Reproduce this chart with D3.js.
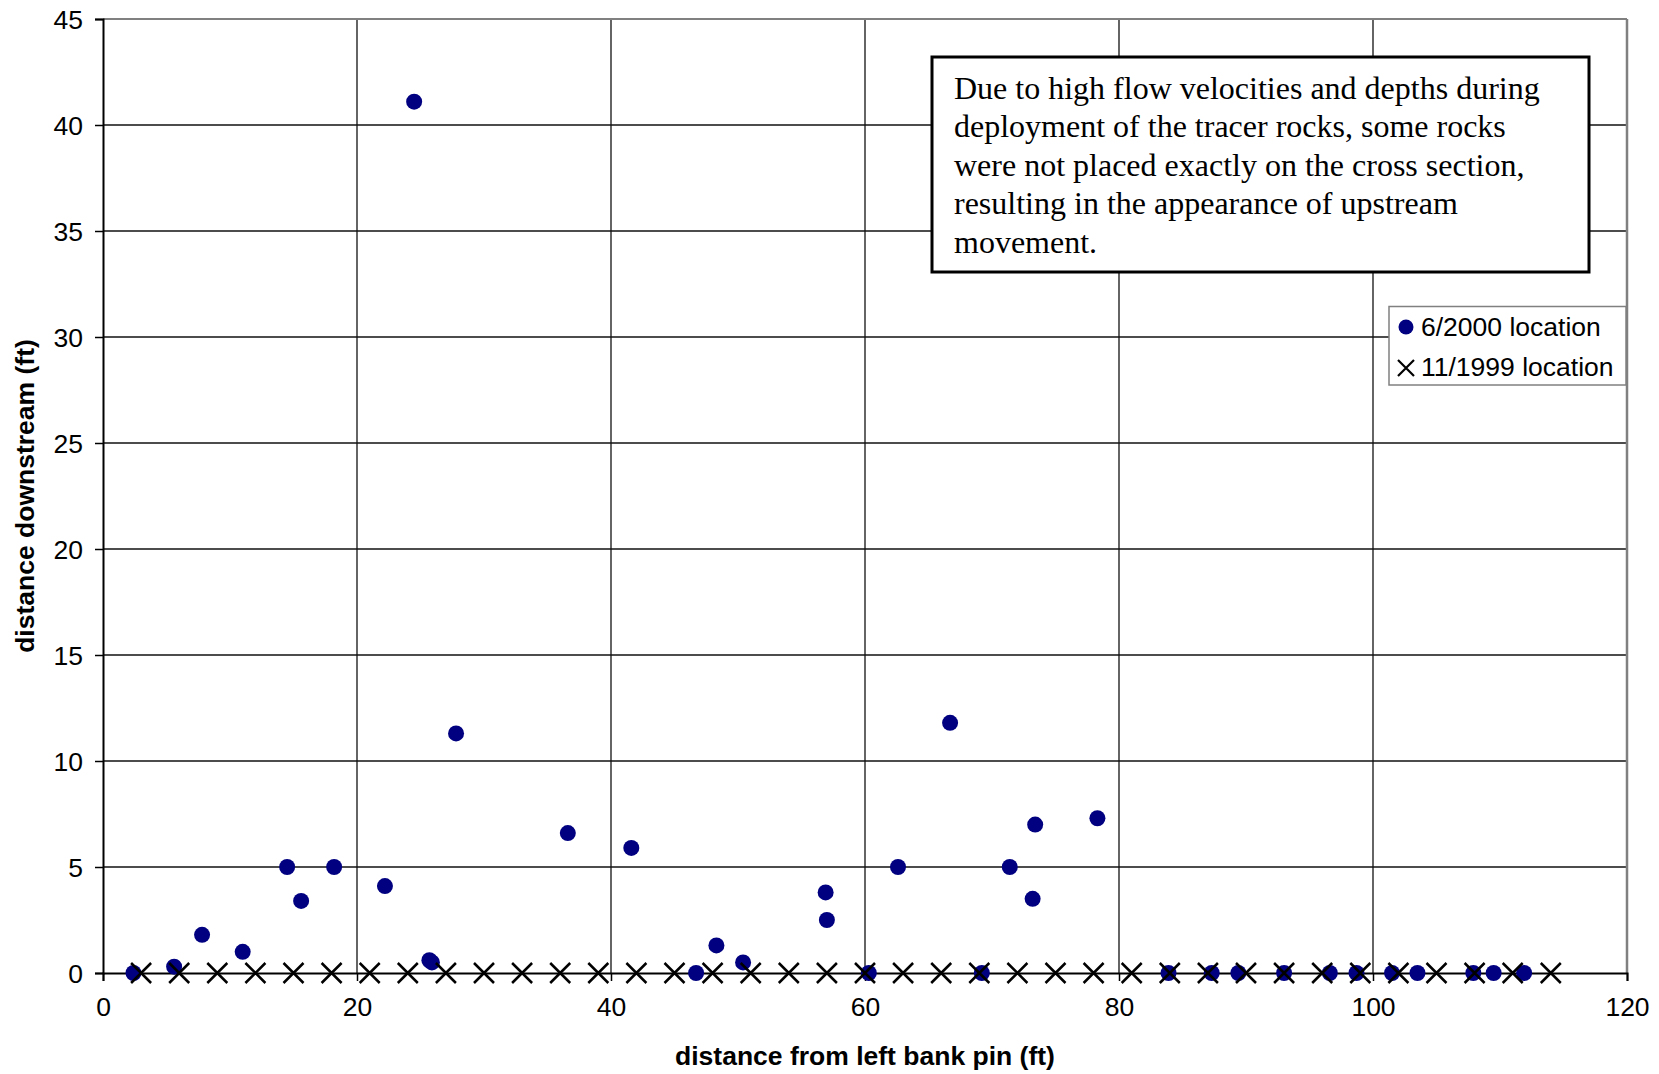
<!DOCTYPE html>
<html><head><meta charset="utf-8">
<script src="https://cdn.jsdelivr.net/npm/d3@7"></script>
<style>body{margin:0;background:#fff}svg{display:block}</style>
</head><body><svg id="c" width="1659" height="1074"></svg>
<script>
// 6/2000 location: [distance from left bank pin, distance downstream]
const june2000X = [2.4,5.6,7.8,11.0,14.5,15.6,18.2,22.2,24.5,25.7,25.9,27.8,36.6,41.6,46.7,48.3,50.4,56.9,57.0,60.3,62.6,66.7,69.2,71.4,73.2,73.4,78.3,83.9,87.3,89.4,93.0,96.6,98.7,101.5,103.5,107.9,109.5,111.9];
const june2000Y = [0,0.3,1.8,1.0,5.0,3.4,5.0,4.1,41.1,0.6,0.5,11.3,6.6,5.9,0,1.3,0.5,3.8,2.5,0,5.0,11.8,0,5.0,3.5,7.0,7.3,0,0,0,0,0,0,0,0,0,0,0];
// 11/1999 location
const nov1999X = [3,6,9,12,15,18,21,24,27,30,33,36,39,42,45,48,51,54,57,60,63,66,69,72,75,78,81,84,87,90,93,96,99,102,105,108,111,114];
const nov1999Y = [0,0,0,0,0,0,0,0,0,0,0,0,0,0,0,0,0,0,0,0,0,0,0,0,0,0,0,0,0,0,0,0,0,0,0,0,0,0];
const xTicks = [0,20,40,60,80,100,120];
const yTicks = [0,5,10,15,20,25,30,35,40,45];
const seriesNames = ["6/2000 location","11/1999 location"];
const xTitle = "distance from left bank pin (ft)";
const yTitle = "distance downstream (ft)";
const noteLines = ["Due to high flow velocities and depths during","deployment of the tracer rocks, some rocks","were not placed exactly on the cross section,","resulting in the appearance of upstream","movement."];

const svg = d3.select("#c");
const L = 103, T = 19, R = 1627, B = 973;
const x = d3.scaleLinear().domain([0,120]).range([L,R]);
const y = d3.scaleLinear().domain([0,45]).range([B,T]);
const sans = "'Liberation Sans', Arial, sans-serif";
const serif = "'Liberation Serif', 'Times New Roman', serif";

// grid
const g = svg.append("g");
g.selectAll(".vg").data(xTicks.filter(d=>d>0&&d<120)).join("line")
  .attr("x1",d=>x(d)).attr("x2",d=>x(d)).attr("y1",T).attr("y2",B)
  .attr("stroke","#111").attr("stroke-width",1.3);
g.selectAll(".hg").data(yTicks.filter(d=>d>0&&d<45)).join("line")
  .attr("x1",L).attr("x2",R).attr("y1",d=>y(d)).attr("y2",d=>y(d))
  .attr("stroke","#111").attr("stroke-width",1.3);
// plot borders top/right (gray)
g.append("line").attr("x1",L).attr("x2",R).attr("y1",T).attr("y2",T).attr("stroke","#808080").attr("stroke-width",2);
g.append("line").attr("x1",R).attr("x2",R).attr("y1",T).attr("y2",B).attr("stroke","#808080").attr("stroke-width",2.5);

// axes
const xAxis = d3.axisBottom(x).tickValues(xTicks).tickSize(8).tickPadding(10).tickFormat(d3.format("d"));
const yAxis = d3.axisLeft(y).tickValues(yTicks).tickSize(8).tickPadding(12).tickFormat(d3.format("d"));
const gx = svg.append("g").attr("transform",`translate(0,${B})`).call(xAxis);
const gy = svg.append("g").attr("transform",`translate(${L},0)`).call(yAxis);
[gx,gy].forEach(a=>{
  a.select(".domain").attr("stroke","#000").attr("stroke-width",2);
  a.selectAll(".tick line").attr("stroke","#000").attr("stroke-width",1.5);
  a.selectAll(".tick text").attr("font-family",sans).attr("font-size",26.5).attr("fill","#000");
});
gx.selectAll(".tick text").attr("dy","0.95em");
gy.selectAll(".tick text").attr("dy","0.36em");

// points: 6/2000
const pts = june2000X.map((v,i)=>({x:v,y:june2000Y[i]}));
svg.append("g").selectAll("circle").data(pts).join("circle")
  .attr("cx",d=>x(d.x)).attr("cy",d=>y(d.y)).attr("r",8).attr("fill","#000080");
// 11/1999 X marks
const xs = nov1999X.map((v,i)=>({x:v,y:nov1999Y[i]}));
const s = 10;
svg.append("g").selectAll("path").data(xs).join("path")
  .attr("d",d=>{const cx=x(d.x), cy=y(d.y);return `M${cx-s},${cy-s}L${cx+s},${cy+s}M${cx-s},${cy+s}L${cx+s},${cy-s}`;})
  .attr("stroke","#000").attr("stroke-width",2.5).attr("fill","none");

// axis titles
svg.append("text").attr("x",(L+R)/2).attr("y",1065).attr("text-anchor","middle")
  .attr("font-family",sans).attr("font-weight","bold").attr("font-size",26.5).text(xTitle);
svg.append("text").attr("transform","translate(34,496) rotate(-90)").attr("text-anchor","middle")
  .attr("font-family",sans).attr("font-weight","bold").attr("font-size",26.5).text(yTitle);

// note box
svg.append("rect").attr("x",932).attr("y",57).attr("width",657).attr("height",215)
  .attr("fill","#fff").attr("stroke","#000").attr("stroke-width",3);
svg.append("g").selectAll("text").data(noteLines).join("text")
  .attr("x",954).attr("y",(d,i)=>99+i*38.4).attr("font-family",serif).attr("font-size",32).attr("fill","#000").text(d=>d);

// legend
const lg = svg.append("g");
lg.append("rect").attr("x",1389).attr("y",306.5).attr("width",237).attr("height",78.5)
  .attr("fill","#fff").attr("stroke","#808080").attr("stroke-width",1.5);
lg.append("circle").attr("cx",1406).attr("cy",327).attr("r",7.5).attr("fill","#000080");
lg.append("path").attr("d",`M${1406-8},${368-8}L${1406+8},${368+8}M${1406-8},${368+8}L${1406+8},${368-8}`)
  .attr("stroke","#000").attr("stroke-width",2.2);
lg.selectAll("text").data(seriesNames).join("text")
  .attr("x",1421).attr("y",(d,i)=>336+i*39.5).attr("font-family",sans).attr("font-size",26.5).attr("fill","#000").text(d=>d);
</script></body></html>
